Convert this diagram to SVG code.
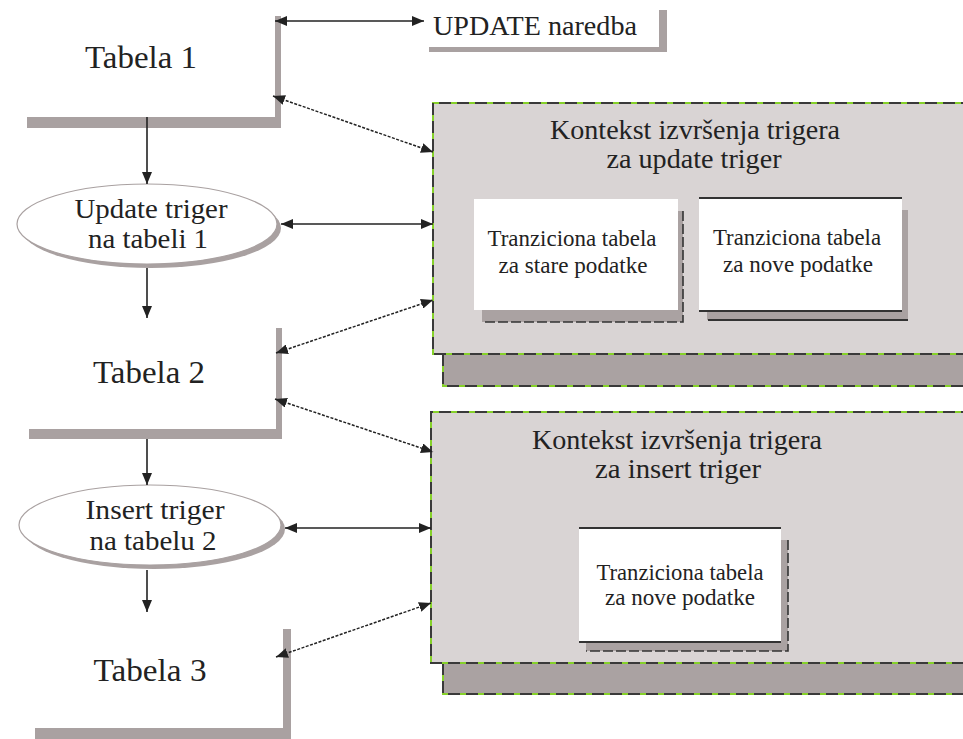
<svg xmlns="http://www.w3.org/2000/svg" width="963" height="739" viewBox="0 0 963 739">
<style>
text{font-family:"Liberation Serif","DejaVu Serif",serif;fill:#222;}
.big{font-size:32px;text-anchor:middle;}
.ell{font-size:28px;text-anchor:middle;}
.ttl{font-size:27px;text-anchor:middle;}
.inn{font-size:23px;text-anchor:middle;}
.bar{fill:#a9a1a1;}
.ctx{fill:#d9d4d4;}
.ctxsh{fill:#aaa2a2;}
.bgreen{fill:none;stroke:#86d12a;stroke-width:2;}
.bdash{fill:none;stroke:#3a3a3a;stroke-width:2;stroke-dasharray:12 6;}
.solid{fill:none;stroke:#222;stroke-width:1.6;marker-start:url(#ah);marker-end:url(#ah);}
.dot{fill:none;stroke:#222;stroke-width:1.5;stroke-dasharray:3 1.5;marker-start:url(#ah);marker-end:url(#ah);}
.down{fill:none;stroke:#222;stroke-width:1.6;marker-end:url(#ah);}
.tbl{fill:#fff;}
.tline{stroke:#333;stroke-width:1.8;}
.tsh{fill:#aaa2a2;}
</style>
<defs>
<marker id="ah" viewBox="0 0 12 10" markerWidth="12" markerHeight="10" refX="12" refY="5" orient="auto-start-reverse" markerUnits="userSpaceOnUse">
<path d="M0,0 L12,5 L0,10 z" fill="#222"/>
</marker>
</defs>
<rect width="963" height="739" fill="#fff"/>

<g id="context1">
<rect class="ctxsh" x="443" y="354" width="530" height="32"/>
<path class="bgreen" d="M443,354 V386 H973"/>
<path class="bdash" d="M443,354 V386 H973"/>
<rect class="ctx" x="433" y="103" width="540" height="251"/>
<path class="bgreen" d="M973,103 H433 V354 H973"/>
<path class="bdash" d="M973,103 H433 V354 H973"/>
<text class="ttl" x="695" y="139" textLength="290" lengthAdjust="spacingAndGlyphs">Kontekst izvršenja trigera</text>
<text class="ttl" x="694" y="168" textLength="175" lengthAdjust="spacingAndGlyphs">za update triger</text>
</g>

<g id="old-table1">
<rect class="tsh" x="482" y="211" width="201" height="111"/>
<path d="M683,211 V322 H482" fill="none" stroke="#333" stroke-width="1.6" stroke-dasharray="10 3"/>
<rect class="tbl" x="474" y="199" width="204" height="111"/>
<text class="inn" x="572" y="246" textLength="169" lengthAdjust="spacingAndGlyphs">Tranziciona tabela</text>
<text class="inn" x="573" y="273" textLength="149" lengthAdjust="spacingAndGlyphs">za stare podatke</text>
</g>

<g id="new-table1">
<rect class="tsh" x="707" y="210" width="201" height="110"/>
<path d="M708,320 H908" class="tline"/>
<rect class="tbl" x="699" y="198" width="203" height="113"/>
<path d="M699,198 H902 M699,311 H902" class="tline"/>
<text class="inn" x="797" y="245" textLength="168" lengthAdjust="spacingAndGlyphs">Tranziciona tabela</text>
<text class="inn" x="798" y="272" textLength="150" lengthAdjust="spacingAndGlyphs">za nove podatke</text>
</g>

<g id="context2">
<rect class="ctxsh" x="443" y="663" width="530" height="31"/>
<path class="bgreen" d="M443,663 V694 H973"/>
<path class="bdash" d="M443,663 V694 H973"/>
<rect class="ctx" x="431" y="412" width="542" height="251"/>
<path class="bgreen" d="M973,412 H431 V663 H973"/>
<path class="bdash" d="M973,412 H431 V663 H973"/>
<text class="ttl" x="677" y="449" textLength="290" lengthAdjust="spacingAndGlyphs">Kontekst izvršenja trigera</text>
<text class="ttl" x="678" y="478" textLength="166" lengthAdjust="spacingAndGlyphs">za insert triger</text>
</g>

<g id="new-table2">
<rect class="tsh" x="586" y="540" width="202" height="111"/>
<path d="M788,540 V651 H586" fill="none" stroke="#333" stroke-width="1.6" stroke-dasharray="10 3"/>
<rect class="tbl" x="579" y="528" width="202" height="114"/>
<path d="M579,528 H781 M579,642 H781" class="tline"/>
<text class="inn" x="680" y="580" textLength="167" lengthAdjust="spacingAndGlyphs">Tranziciona tabela</text>
<text class="inn" x="680" y="605" textLength="150" lengthAdjust="spacingAndGlyphs">za nove podatke</text>
</g>

<g id="tabela1">
<rect class="bar" x="27" y="117" width="254" height="11"/>
<rect class="bar" x="275" y="16" width="6" height="112"/>
<text class="big" x="141" y="68" textLength="112" lengthAdjust="spacingAndGlyphs">Tabela 1</text>
</g>

<g id="update-naredba">
<rect class="bar" x="429" y="47" width="238" height="5"/>
<rect class="bar" x="659" y="10" width="8" height="42"/>
<text x="433" y="35" font-size="27" textLength="204" lengthAdjust="spacingAndGlyphs">UPDATE naredba</text>
</g>

<g id="update-trigger">
<ellipse cx="151" cy="228" rx="130" ry="40" fill="#a9a1a1"/>
<ellipse cx="147" cy="224" rx="130" ry="40" fill="#fff" stroke="#a9a1a1" stroke-width="1.2"/>
<text class="ell" x="151" y="218" textLength="153" lengthAdjust="spacingAndGlyphs">Update triger</text>
<text class="ell" x="148" y="248" textLength="120" lengthAdjust="spacingAndGlyphs">na tabeli 1</text>
</g>

<g id="tabela2">
<rect class="bar" x="29" y="429" width="253" height="10"/>
<rect class="bar" x="276" y="328" width="6" height="111"/>
<text class="big" x="149" y="383" textLength="112" lengthAdjust="spacingAndGlyphs">Tabela 2</text>
</g>

<g id="insert-trigger">
<ellipse cx="154" cy="529" rx="131" ry="40" fill="#a9a1a1"/>
<ellipse cx="150" cy="525" rx="131" ry="40" fill="#fff" stroke="#a9a1a1" stroke-width="1.2"/>
<text class="ell" x="155" y="519" textLength="139" lengthAdjust="spacingAndGlyphs">Insert triger</text>
<text class="ell" x="153" y="550" textLength="127" lengthAdjust="spacingAndGlyphs">na tabelu 2</text>
</g>

<g id="tabela3">
<rect class="bar" x="35" y="728" width="256" height="11"/>
<rect class="bar" x="283" y="629" width="8" height="110"/>
<text class="big" x="150" y="681" textLength="113" lengthAdjust="spacingAndGlyphs">Tabela 3</text>
</g>

<g id="connectors">
<line class="solid" x1="275" y1="21" x2="424" y2="21"/>
<line class="dot" x1="273" y1="96" x2="433" y2="152"/>
<line class="down" x1="147" y1="117" x2="147" y2="184"/>
<line class="solid" x1="281" y1="224" x2="433" y2="224"/>
<line class="down" x1="147" y1="268" x2="147" y2="318"/>
<line class="dot" x1="276" y1="353" x2="433" y2="300"/>
<line class="dot" x1="275" y1="399" x2="433" y2="452"/>
<line class="down" x1="147" y1="439" x2="147" y2="485"/>
<line class="solid" x1="285" y1="528" x2="431" y2="528"/>
<line class="down" x1="147" y1="570" x2="147" y2="612"/>
<line class="dot" x1="276" y1="657" x2="431" y2="603"/>
</g>
</svg>
